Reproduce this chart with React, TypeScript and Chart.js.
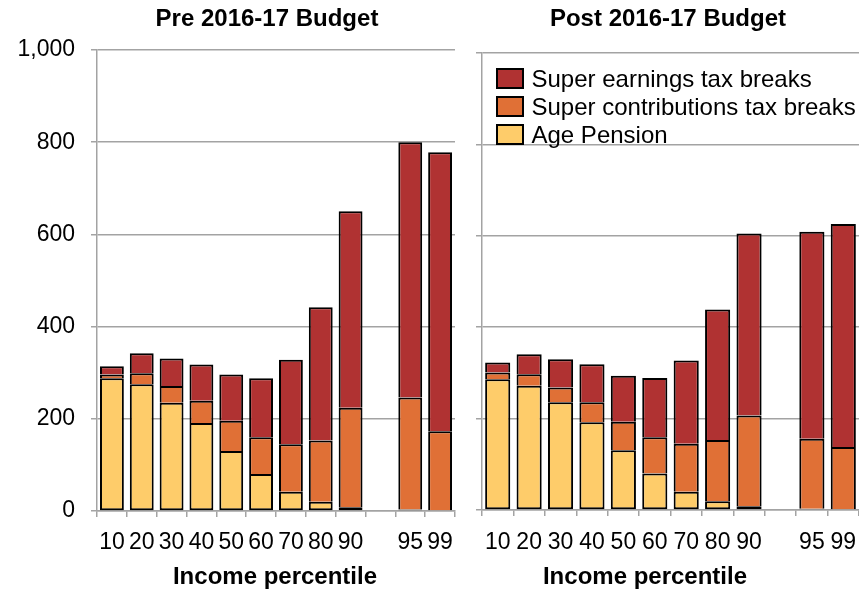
import React, { useEffect, useRef } from 'react';
import { Chart, registerables } from 'chart.js';

Chart.register(...registerables);

const FONT = 'Arial, "Liberation Sans", Helvetica, sans-serif';
const GRID = '#a3a3a3';

// ---- data ----
const categories = ['10', '20', '30', '40', '50', '60', '70', '80', '90', '', '95', '99'];
const seriesNames = ['Age Pension', 'Super contributions tax breaks', 'Super earnings tax breaks'];
const seriesColors = ['#FECC6A', '#E07036', '#B03232'];
const yTickValues = [0, 200, 400, 600, 800, 1000];
const panelTitles = ['Pre 2016-17 Budget', 'Post 2016-17 Budget'];
const xAxisTitle = 'Income percentile';

const preAgePension = [288, 275, 235, 191, 130, 80, 42, 20, 8, null, 3, 0];
const preContributions = [8, 24, 36, 48, 66, 80, 103, 133, 216, null, 243, 173];
const preEarnings = [18, 43, 60, 79, 100, 128, 183, 289, 426, null, 554, 605];

const postAgePension = [286, 272, 236, 192, 131, 80, 40, 19, 8, null, 3, 0];
const postContributions = [15, 25, 32, 44, 62, 79, 105, 134, 199, null, 153, 138];
const postEarnings = [22, 44, 62, 83, 101, 130, 182, 286, 398, null, 453, 488];

type PanelProps = {
  left: number;
  width: number;
  yWidth: number;
  areaTop: number;
  xHeight: number;
  rightPad: number;
  tickPad: number;
  showYLabels: boolean;
  series: (number | null)[][];
};

function Panel(p: PanelProps) {
  const ref = useRef<HTMLCanvasElement>(null);
  useEffect(() => {
    const chart = new Chart(ref.current as HTMLCanvasElement, {
      type: 'bar',
      data: {
        labels: categories,
        datasets: seriesNames.map((name, i) => ({
          label: name,
          data: p.series[i] as any,
          backgroundColor: seriesColors[i],
          borderColor: '#000',
          borderWidth: 2,
          borderSkipped: i === 0 ? false : 'bottom',
          barPercentage: 0.8,
          categoryPercentage: 1,
        })),
      },
      options: {
        responsive: false,
        animation: false,
        layout: { padding: { left: 0, right: p.rightPad, top: p.areaTop, bottom: 0 } },
        plugins: {
          legend: { display: false },
          tooltip: { enabled: false },
          title: { display: false },
        },
        scales: {
          x: {
            stacked: true,
            grid: {
              display: true,
              drawOnChartArea: false,
              drawTicks: true,
              tickLength: 6,
              offset: true,
              color: GRID,
              lineWidth: 1.5,
            },
            border: { display: true, color: GRID, width: 1.5 },
            ticks: {
              font: { family: FONT, size: 23 },
              color: '#000',
              padding: p.tickPad,
              maxRotation: 0,
              autoSkip: false,
            },
            afterFit: (s: any) => {
              s.height = p.xHeight;
              s.paddingLeft = 0;
              s.paddingRight = 0;
            },
          },
          y: {
            stacked: true,
            min: 0,
            max: 1000,
            afterBuildTicks: (s: any) => {
              s.ticks = yTickValues.map((v) => ({ value: v }));
            },
            ticks: {
              display: p.showYLabels,
              font: { family: FONT, size: 23 },
              color: '#000',
              padding: 16,
              callback: (v: any) => Number(v).toLocaleString('en-US'),
            },
            grid: { color: GRID, lineWidth: 1.5, drawTicks: true, tickLength: 6 },
            border: { display: true, color: GRID, width: 1.5 },
            afterFit: (s: any) => {
              s.width = p.yWidth;
              s.paddingTop = 0;
              s.paddingBottom = 0;
            },
          },
        },
      } as any,
    });
    return () => chart.destroy();
  }, []);
  return (
    <canvas
      ref={ref}
      width={p.width}
      height={591}
      style={{ position: 'absolute', left: p.left, top: 0, width: p.width, height: 591, display: 'block' }}
    />
  );
}

const textBase: React.CSSProperties = {
  position: 'absolute',
  fontFamily: FONT,
  color: '#000',
  lineHeight: 1,
  whiteSpace: 'nowrap',
};

function CenteredText({ text, cx, top, size, bold }: { text: string; cx: number; top: number; size: number; bold?: boolean }) {
  return (
    <div
      style={{
        ...textBase,
        left: cx - 200,
        width: 400,
        top,
        fontSize: size,
        fontWeight: bold ? 'bold' : 'normal',
        textAlign: 'center',
      }}
    >
      {text}
    </div>
  );
}

export default function App() {
  const legendRows = [2, 1, 0];
  const legendTops = [67.5, 95.5, 124];
  return (
    <div
      style={{
        position: 'fixed',
        left: 0,
        top: 0,
        width: 859,
        height: 591,
        overflow: 'hidden',
        background: '#fff',
      }}
    >
      <Panel
        left={0}
        width={470}
        yWidth={97}
        areaTop={50}
        xHeight={80}
        rightPad={15}
        tickPad={12}
        showYLabels={true}
        series={[preAgePension, preContributions, preEarnings]}
      />
      <Panel
        left={460}
        width={399}
        yWidth={22}
        areaTop={53}
        xHeight={81}
        rightPad={0}
        tickPad={13}
        showYLabels={false}
        series={[postAgePension, postContributions, postEarnings]}
      />
      <CenteredText text={panelTitles[0]} cx={267} top={6} size={24} bold />
      <CenteredText text={panelTitles[1]} cx={668} top={6} size={24} bold />
      <CenteredText text={xAxisTitle} cx={275} top={564} size={24} bold />
      <CenteredText text={xAxisTitle} cx={645} top={564} size={24} bold />
      {legendRows.map((si, r) => (
        <React.Fragment key={si}>
          <div
            style={{
              position: 'absolute',
              left: 496,
              top: legendTops[r],
              width: 28,
              height: 21,
              boxSizing: 'border-box',
              border: '2px solid #000',
              background: seriesColors[si],
            }}
          />
          <div style={{ ...textBase, left: 531.5, top: legendTops[r] - 1, fontSize: 24 }}>{seriesNames[si]}</div>
        </React.Fragment>
      ))}
    </div>
  );
}
